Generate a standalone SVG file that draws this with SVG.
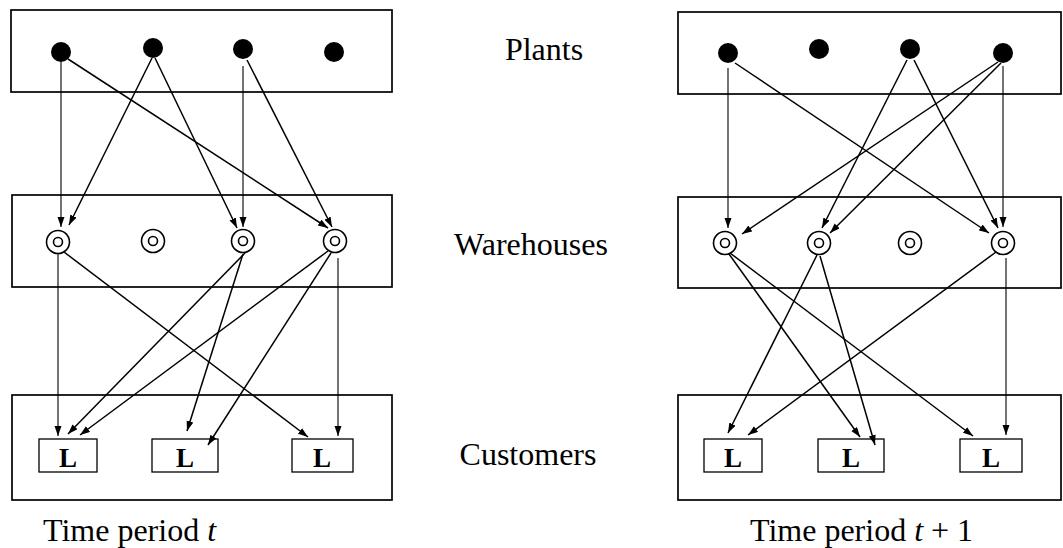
<svg xmlns="http://www.w3.org/2000/svg" width="1063" height="548" viewBox="0 0 1063 548">
<style>
.box{fill:none;stroke:#000;stroke-width:1.7}
.cbox{fill:none;stroke:#000;stroke-width:1.3}
.plant{fill:#000}
.wo{fill:#fff;stroke:#000;stroke-width:1.6}
.wi{fill:none;stroke:#000;stroke-width:1.6}
.lbl{font-family:"Liberation Serif","Times New Roman",serif;font-size:32px;fill:#000}
.L{font-family:"Liberation Serif","Times New Roman",serif;font-size:27px;font-weight:bold;fill:#000;text-anchor:middle}
.e{fill:none;stroke:#000;stroke-width:1.5;marker-end:url(#ah)}
.v{stroke-width:1.1}
</style>
<defs>
<marker id="ah" markerUnits="userSpaceOnUse" markerWidth="11" markerHeight="8" refX="10" refY="3.5" orient="auto">
<path d="M0,0 L10,3.5 L0,7 z" fill="#000"/>
</marker>
</defs>
<rect width="1063" height="548" fill="#fff"/>
<g id="panels">
<rect class="box" x="11" y="10" width="381" height="82"/>
<rect class="box" x="12" y="195" width="380" height="92"/>
<rect class="box" x="12" y="395" width="380" height="105"/>
<rect class="box" x="678" y="12" width="383" height="82"/>
<rect class="box" x="678" y="197" width="383" height="91"/>
<rect class="box" x="678" y="395" width="383" height="105"/>
</g>
<g id="connectors">
<line class="e v" x1="61" y1="62" x2="61" y2="227"/>
<line class="e" x1="68" y1="59" x2="328" y2="228"/>
<line class="e" x1="152" y1="58" x2="69" y2="225"/>
<line class="e" x1="155" y1="58" x2="237" y2="228"/>
<line class="e v" x1="243" y1="66" x2="243" y2="227"/>
<line class="e" x1="247" y1="60" x2="332" y2="227"/>
<line class="e v" x1="58" y1="254" x2="58" y2="436"/>
<line class="e" x1="64" y1="252" x2="308" y2="437"/>
<line class="e" x1="245" y1="253" x2="68" y2="434"/>
<line class="e" x1="243" y1="254" x2="187" y2="431"/>
<line class="e" x1="328" y1="251" x2="80" y2="435"/>
<line class="e" x1="331" y1="253" x2="208" y2="445"/>
<line class="e v" x1="338" y1="258" x2="338" y2="436"/>
<line class="e v" x1="728" y1="68" x2="728" y2="228"/>
<line class="e" x1="735" y1="63" x2="989" y2="233"/>
<line class="e" x1="907" y1="60" x2="822" y2="228"/>
<line class="e" x1="914" y1="60" x2="998" y2="228"/>
<line class="e" x1="998" y1="62" x2="742" y2="234"/>
<line class="e" x1="1001" y1="63" x2="830" y2="233"/>
<line class="e v" x1="1003" y1="66" x2="1003" y2="227"/>
<line class="e" x1="729" y1="254" x2="860" y2="437"/>
<line class="e" x1="730" y1="253" x2="973" y2="436"/>
<line class="e" x1="817" y1="255" x2="728" y2="433"/>
<line class="e" x1="820" y1="256" x2="875" y2="445"/>
<line class="e" x1="996" y1="252" x2="748" y2="435"/>
<line class="e v" x1="1006" y1="258" x2="1006" y2="435"/>
</g>
<g id="plants-t">
<circle class="plant" cx="61" cy="52" r="10"/>
<circle class="plant" cx="153" cy="48" r="10"/>
<circle class="plant" cx="243" cy="49" r="10"/>
<circle class="plant" cx="334" cy="52" r="10"/>
</g>
<g id="warehouses-t">
<circle class="wo" cx="58" cy="242" r="11.5"/><circle class="wi" cx="58" cy="242" r="4.5"/>
<circle class="wo" cx="153" cy="241" r="11.5"/><circle class="wi" cx="153" cy="241" r="4.5"/>
<circle class="wo" cx="243" cy="241" r="11.5"/><circle class="wi" cx="243" cy="241" r="4.5"/>
<circle class="wo" cx="335" cy="241" r="11.5"/><circle class="wi" cx="335" cy="241" r="4.5"/>
</g>
<g id="customers-t">
<rect class="cbox" x="39" y="439" width="58" height="33"/><text class="L" x="68" y="467">L</text>
<rect class="cbox" x="152" y="439" width="66" height="33"/><text class="L" x="185" y="467">L</text>
<rect class="cbox" x="292" y="439" width="61" height="33"/><text class="L" x="322" y="467">L</text>
</g>
<g id="plants-t1">
<circle class="plant" cx="728" cy="53" r="10"/>
<circle class="plant" cx="819" cy="49" r="10"/>
<circle class="plant" cx="910" cy="49" r="10"/>
<circle class="plant" cx="1003" cy="53" r="10"/>
</g>
<g id="warehouses-t1">
<circle class="wo" cx="725" cy="243" r="11.5"/><circle class="wi" cx="725" cy="243" r="4.5"/>
<circle class="wo" cx="819" cy="243" r="11.5"/><circle class="wi" cx="819" cy="243" r="4.5"/>
<circle class="wo" cx="910" cy="243" r="11.5"/><circle class="wi" cx="910" cy="243" r="4.5"/>
<circle class="wo" cx="1003" cy="243" r="11.5"/><circle class="wi" cx="1003" cy="243" r="4.5"/>
</g>
<g id="customers-t1">
<rect class="cbox" x="704" y="439" width="58" height="33"/><text class="L" x="733" y="467">L</text>
<rect class="cbox" x="818" y="439" width="66" height="33"/><text class="L" x="851" y="467">L</text>
<rect class="cbox" x="960" y="439" width="62" height="33"/><text class="L" x="991" y="467">L</text>
</g>
<g id="labels">
<text class="lbl" x="544" y="60" text-anchor="middle">Plants</text>
<text class="lbl" x="531" y="255" text-anchor="middle">Warehouses</text>
<text class="lbl" x="528" y="465" text-anchor="middle">Customers</text>
<text class="lbl" x="43" y="541">Time period <tspan font-style="italic">t</tspan></text>
<text class="lbl" x="750" y="541">Time period <tspan font-style="italic">t</tspan> + 1</text>
</g>
</svg>
